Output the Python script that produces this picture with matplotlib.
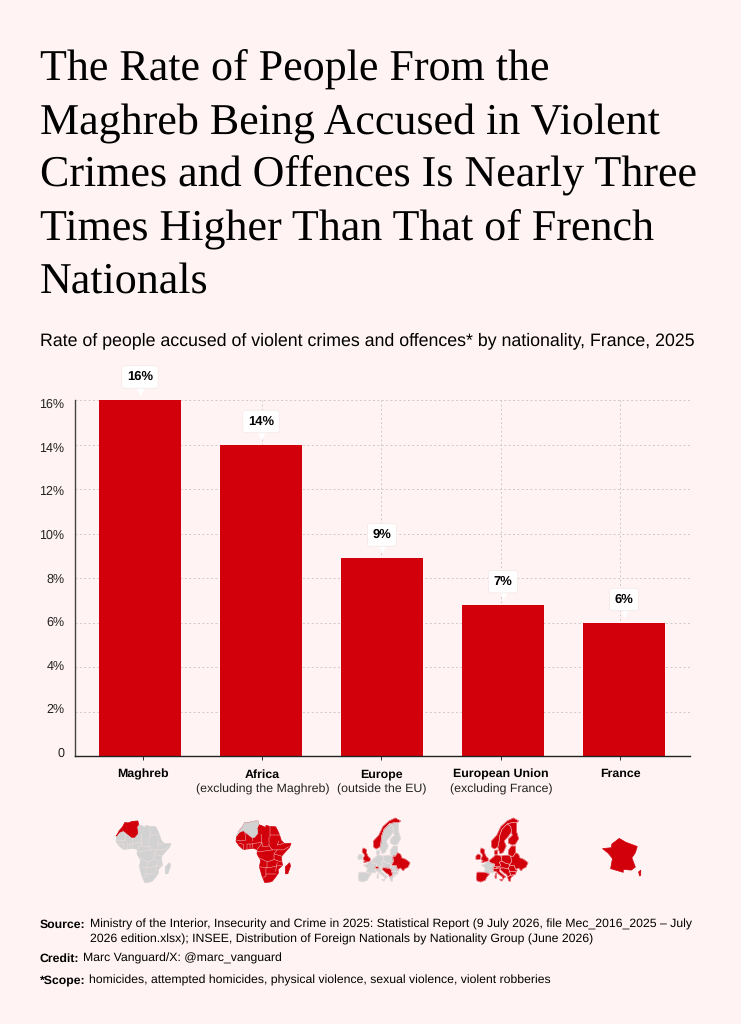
import matplotlib
matplotlib.use('Agg')
import matplotlib.pyplot as plt
import numpy as np
from matplotlib.transforms import offset_copy

# chart data
categories = ['Maghreb', 'Africa', 'Europe', 'European Union', 'France']
subcategories = ['', '(excluding the Maghreb)', '(outside the EU)', '(excluding France)', '']
rates = [16, 14, 8.9, 6.8, 6]
rate_labels = ['16%', '14%', '9%', '7%', '6%']
y_values = [0, 2, 4, 6, 8, 10, 12, 14, 16]
y_labels = ['0', '2%', '4%', '6%', '8%', '10%', '12%', '14%', '16%']

title_lines = ['The Rate of People From the',
               'Maghreb Being Accused in Violent',
               'Crimes and Offences Is Nearly Three',
               'Times Higher Than That of French',
               'Nationals']
subtitle = 'Rate of people accused of violent crimes and offences* by nationality, France, 2025'

# rough map outlines, (lon, lat)
africa = [(-6, 35.7), (-2, 35.2), (3, 36.8), (10, 37.2), (11, 33.5), (15, 32.3), (20, 30.5), (20, 32.7), (25, 31.6),
          (32, 31.2), (34, 28), (36, 24), (37.5, 20), (39, 15.5), (43, 11.7), (51, 12), (49, 7), (44, 1.5), (40, -3),
          (39, -7), (40.5, -15), (35, -20), (35.5, -24), (32.5, -28), (28, -33), (25, -34), (18.5, -34.5), (15, -27),
          (12, -17), (13.5, -9), (9, -1), (9.5, 4), (5, 6), (-4, 5), (-8, 4.5), (-13, 9), (-17, 14.5), (-16, 21),
          (-13, 27), (-9, 31)]
madagascar = [(49.3, -12), (50.4, -16), (47, -25), (44, -25), (44, -17)]
maghreb = [(-17, 21), (-16, 21), (-13, 27), (-9, 31), (-6, 35.7), (-2, 35.2), (3, 36.8), (10, 37.2), (11, 33.5),
           (9, 30), (10, 24), (6, 19.5), (3, 19), (-8, 27), (-13, 25)]
africa_borders = [[(-12, 15), (-5, 16), (-6, 25)], [(3, 15), (4, 19)], [(14, 23), (15, 13), (14, 11), (9, 4.5)],
                  [(24, 20), (24, 10)], [(25, 31.6), (25, 20)], [(25, 22), (37, 22)], [(3, 6), (3, 12), (15, 13)],
                  [(15, 13), (16, 8), (24, 9)], [(9.5, 2), (14, 2), (28, 4), (34, 4), (42, 4), (48, 8)],
                  [(34, 4), (30, -1), (30, -8), (22, -11), (12, -6)], [(30, -1), (40, -4)], [(30, -8), (39, -11)],
                  [(12, -17), (24, -18), (33, -16), (40, -15)], [(20, -18), (20, -28), (17, -29)],
                  [(20, -25), (32, -25)], [(34, -12), (33, -16), (32, -22)], [(34, 10), (36, 15)], [(34, 10), (42, 12)],
                  [(-8, 4.5), (-8, 11), (-13, 12)], [(-3, 5), (-3, 11), (3, 11)], [(0, 6), (0, 11)], [(11, 33), (9, 30)],
                  [(24, 9), (28, 4)], [(21, -11), (21, -18)], [(-16, 16), (-12, 15)]]

iberia = [(-9, 43.5), (-2, 43.4), (3, 42.4), (0, 39.5), (-1, 37.5), (-5.5, 36), (-9, 37), (-9.5, 39)]
france = [(-4.7, 48.5), (-1.5, 48.7), (-1.2, 49.6), (1.5, 50.9), (4, 50), (8.2, 49), (7.5, 47.5), (6.2, 46.2), (7.5, 43.8),
          (6, 43), (3, 43.2), (3, 42.4), (-1.7, 43.4), (-1, 46), (-2.5, 47.3)]
corsica = [(8.7, 42.5), (9.5, 43), (9.5, 41.6), (9.1, 41.4)]
uk = [(-5, 50), (1.5, 51), (1.7, 52.7), (0, 53.5), (-2, 56), (-2, 57.7), (-5, 58.5), (-6, 56.5), (-3.5, 54.5),
      (-4.5, 53.2), (-5, 51.8), (-3, 51.4)]
ireland = [(-10, 52), (-6, 52.2), (-5.6, 54.5), (-8, 55.2), (-10, 54)]
norway = [(5, 59), (7.5, 58), (11, 59), (12, 61), (12.5, 64), (15, 67), (20, 69), (25, 69.5), (29, 69.5), (31, 70),
          (26, 71), (20, 70), (14, 68), (10, 64.5), (5, 62)]
sweden = [(11, 59), (13, 55.5), (16, 56), (19, 59.5), (17, 62), (21, 64), (24, 66), (23.5, 68), (20, 69), (15, 67),
          (12.5, 64), (12, 61)]
finland = [(21, 61), (25, 60), (28, 60.5), (31, 63), (29, 66), (29, 69.5), (25, 69.5), (20, 69), (23.5, 68), (24, 66), (25, 64.5),
           (21.5, 63)]
denmark = [(8, 55), (10.5, 54.8), (10.5, 57.5), (8, 57)]
germany = [(2.5, 51), (4, 52), (7, 53.5), (9, 54.8), (14, 54), (15, 51), (12.5, 50.3), (13.5, 48.6), (13, 47.5),
           (7.5, 47.5), (8.2, 49), (4, 50)]
poland = [(14, 54), (19, 54.5), (23.5, 54), (24, 50.5), (22.5, 49), (19, 49.4), (15, 51)]
baltics = [(21, 55), (21.5, 57.5), (24, 59.5), (28, 59.5), (28, 56), (26, 54), (23.5, 54)]
ukraine = [(23.5, 54), (26, 54), (28, 56), (31, 55), (32, 53), (36, 52), (40, 50), (38, 47), (35, 46), (33.5, 44.5),
           (31, 46.5), (28, 45.5), (27, 48), (22.5, 48.5), (22.5, 49), (24, 50.5)]
central = [(12.5, 50.3), (15, 51), (19, 49.4), (22.5, 49), (22.5, 48.5), (21, 46.2), (16.5, 46.5), (13.5, 46.5),
           (10, 47), (13, 47.5), (13.5, 48.6)]
swiss = [(6.2, 46.2), (7.5, 47.5), (10, 47), (10, 46), (8, 46)]
italy = [(7.5, 43.8), (6.2, 46.2), (8, 46), (10, 46), (13.5, 46.5), (12.5, 45), (12.5, 44), (16, 41.7), (18.5, 40),
         (16.5, 39), (16, 38), (15.5, 40), (12, 42), (9, 44.3)]
sicily = [(12.5, 38), (15.5, 38.2), (15, 36.7)]
sardinia = [(8.2, 41), (9.7, 41), (9.5, 39), (8.5, 39)]
romania = [(22.5, 48.5), (27, 48), (28, 45.5), (29.5, 45), (28.5, 43.7), (22.5, 44), (21, 46.2)]
bulgaria = [(22.5, 44), (28.5, 43.7), (28, 42), (23, 41.3)]
balkans = [(13.5, 46.5), (16.5, 46.5), (21, 46.2), (22.5, 44), (23, 41.3), (20.5, 40), (19.5, 41.8), (17, 43), (14, 45)]
greece = [(20.5, 40), (23, 41.3), (26, 41), (24, 40), (23, 38), (23, 36.5), (21.5, 37), (20.7, 39)]

europe_grey = [iberia, france, ireland, sweden, finland, denmark, germany, poland, baltics, central, italy, sicily,
               sardinia, romania, bulgaria, greece, corsica]
europe_red = [norway, uk, ukraine, swiss, balkans]
eu_red = [iberia, uk, ireland, norway, sweden, finland, denmark, germany, poland, baltics, ukraine, central, swiss,
          italy, sicily, sardinia, romania, bulgaria, balkans, greece, corsica]

BG = '#FFF3F3'
RED = '#D2000B'
GREY = '#D2D2D2'
INK = '#000000'
W, H = 741, 1024

plt.rcParams['font.family'] = ['Liberation Sans', 'DejaVu Sans']
plt.rcParams['text.hinting'] = 'no_hinting'
fig = plt.figure(figsize=(W / 100, H / 100), dpi=100, facecolor=BG)


def px(size):
    return size * 72 / 100


def put(x, y, s, size, **kw):
    kw.setdefault('color', INK)
    return fig.text(x / W, 1 - y / H, s, fontsize=px(size), va='baseline', **kw)


def box(left, top, right, bottom):
    return [left / W, 1 - bottom / H, (right - left) / W, (bottom - top) / H]


for i, line in enumerate(title_lines):
    put(40, 81 + i * 53, line, 43.95, family='Liberation Serif')
put(40, 345.4, subtitle, 17.7)

# ticks and labels sit on a slightly different scale than the bars in the original
ax_ticks = fig.add_axes(box(75, 400, 690, 756), facecolor=BG, zorder=1)
ax_ticks.set_xlim(-0.568, 4.588)
ax_ticks.set_ylim(-0.184, 16.16)
ax_ticks.set_xticks(range(len(categories)))
ax_ticks.set_xticklabels([])
ax_ticks.set_yticks(y_values)
ax_ticks.set_yticklabels(y_labels, fontsize=px(12.5), color='#222222')
ax_ticks.tick_params(axis='y', length=0, pad=10.5 * 0.72)
ax_ticks.tick_params(axis='x', length=3, width=0.7, color='#333333')
ax_ticks.grid(axis='x', color='#CFCACA', linestyle=(0, (2, 2.5)), linewidth=0.7)
for s in ax_ticks.spines.values():
    s.set_visible(False)

ax = fig.add_axes(box(75, 400, 690, 756), zorder=2)
ax.patch.set_alpha(0)
ax.set_xlim(-0.537, 4.545)
ax.set_ylim(0, 16)
ax.set_xticks([])
ax.set_yticks(y_values)
ax.set_yticklabels([])
ax.tick_params(axis='y', length=0)
ax.grid(axis='y', color='#CFCACA', linestyle=(0, (2, 2.5)), linewidth=0.7)
ax.set_axisbelow(True)
ax.bar(range(len(rates)), rates, width=0.678, color=RED)
for name in ['top', 'right']:
    ax.spines[name].set_visible(False)
ax.spines['left'].set_color('#444444')
ax.spines['left'].set_linewidth(1.0)
ax.spines['bottom'].set_color('#222222')
ax.spines['bottom'].set_linewidth(1.0)

# callouts above the bars
pointer = offset_copy(ax.transData, fig=fig, x=0, y=10.5, units='dots')
for i, v in enumerate(rates):
    ax.plot([i], [v], marker='v', ms=px(11), color='white', mec='none', transform=pointer, clip_on=False, zorder=5)
    ax.annotate(rate_labels[i], xy=(i, v), xytext=(0, 23 * 0.72), textcoords='offset points', ha='center',
                va='center', fontsize=px(13), fontweight='bold', color=INK, annotation_clip=False, zorder=6,
                bbox=dict(boxstyle='round,pad=0.4,rounding_size=0.2', fc='white', ec='#F3E6E6', lw=0.5))

# category labels follow the tick scale
tick_px = [142.7, 262.4, 381.7, 501, 620.7]
for i, x in enumerate(tick_px):
    y = 777.6 if subcategories[i] else 777
    put(x, y, categories[i], 12.4, ha='center', fontweight='bold')
    if subcategories[i]:
        put(x, y + 15.4, subcategories[i], 12.4, ha='center', color='#222222')


def merc(lat):
    return np.log(np.tan(np.pi / 4 + np.radians(lat) / 2))


def draw_map(left, top, right, bottom, lons, lats, shapes, outline=True):
    m = fig.add_axes(box(left, top, right, bottom), zorder=3)
    m.set_xlim(np.radians(lons[0]), np.radians(lons[1]))
    m.set_ylim(merc(lats[0]), merc(lats[1]))
    m.axis('off')
    for shape, colour in shapes:
        pts = np.array(shape, dtype=float)
        m.fill(np.radians(pts[:, 0]), merc(pts[:, 1]), color=colour, ec=colour, lw=0.5, clip_on=False)
    if outline:
        for shape, colour in shapes:
            pts = np.array(shape + shape[:1], dtype=float)
            m.plot(np.radians(pts[:, 0]), merc(pts[:, 1]), color='#FBE3E3', lw=0.25, clip_on=False)
    return m


def draw_borders(m, borders):
    for b in borders:
        pts = np.array(b, dtype=float)
        m.plot(np.radians(pts[:, 0]), merc(pts[:, 1]), color='#FBE3E3', lw=0.3)


africa_lons, africa_lats = (-17, 51), (-35, 37.2)
m1 = draw_map(116, 821, 171, 883, africa_lons, africa_lats,
              [(africa, GREY), (madagascar, GREY), (maghreb, RED)], outline=False)
draw_borders(m1, africa_borders)
m2 = draw_map(236, 821, 291, 883, africa_lons, africa_lats,
              [(africa, RED), (madagascar, RED), (maghreb, GREY)], outline=False)
draw_borders(m2, africa_borders)

europe_lons, europe_lats = (-10, 40), (36, 71)
draw_map(358, 818, 410, 882, europe_lons, europe_lats,
         [(s, GREY) for s in europe_grey] + [(s, RED) for s in europe_red])
draw_map(476, 818, 528, 882, europe_lons, europe_lats,
         [(france, GREY)] + [(s, RED) for s in eu_red])
draw_map(602, 838, 641, 876, (-4.9, 9.6), (41.4, 51), [(france, RED), (corsica, RED)], outline=False)

# footer
put(40, 927.6, 'Source:', 12.32, fontweight='bold')
put(90.5, 928, 'Ministry of the Interior, Insecurity and Crime in 2025: Statistical Report (9 July 2026, file Mec_2016_2025 – July', 12.32)
put(90.5, 943, '2026 edition.xlsx); INSEE, Distribution of Foreign Nationals by Nationality Group (June 2026)', 12.32)
put(40, 961.6, 'Credit:', 12.32, fontweight='bold')
put(83, 962, 'Marc Vanguard/X: @marc_vanguard', 12.32)
put(40, 983.6, '*Scope:', 12.32, fontweight='bold')
put(89, 984, 'homicides, attempted homicides, physical violence, sexual violence, violent robberies', 12.32)

fig.savefig('out.png', dpi=100, facecolor=BG)
